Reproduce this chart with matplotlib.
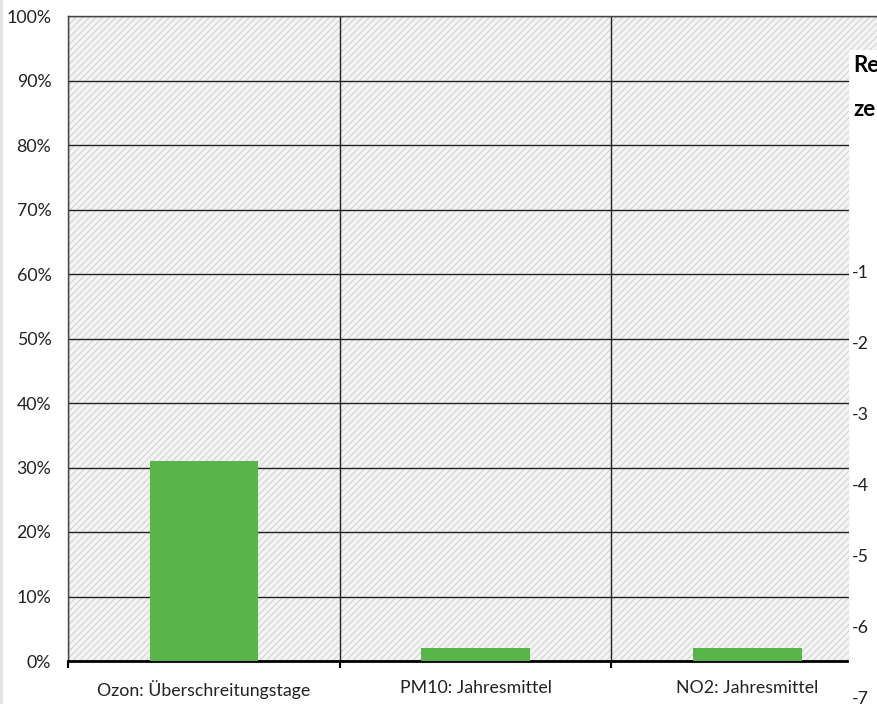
import matplotlib.pyplot as plt
import matplotlib.ticker as mticker
from matplotlib.patches import Rectangle
import numpy as np

plt.rcParams['hatch.linewidth'] = 0.7
plt.rcParams['font.family'] = ['Lato', 'DejaVu Sans']

categories = ['Ozon: Überschreitungstage', 'PM10: Jahresmittel', 'NO2: Jahresmittel']
values = [31, 2, 2]
y_ticks = [0, 10, 20, 30, 40, 50, 60, 70, 80, 90, 100]
other_title = ['Re', 'ze']
other_ticks = ['-1', '-2', '-3', '-4', '-5', '-6', '-7']

fig = plt.figure(figsize=(8.77, 7.04), dpi=100)
fig.patch.set_facecolor('white')
ax = fig.add_axes([68/877, 43/704, 815/877, 645/704])
ax.set_facecolor('white')
# hatched plot-area background
ax.add_patch(Rectangle((0, 0), 1, 1, transform=ax.transAxes, facecolor='#f4f4f4',
                       edgecolor='#cfcfcf', linewidth=0, hatch='/////', zorder=0))

x = np.arange(len(categories))
ax.bar(x, values, width=0.4, color='#59b44a', zorder=3)

ax.set_xlim(-0.5, 2.5)
ax.set_ylim(0, 100)
ax.set_yticks(y_ticks)
ax.yaxis.set_major_formatter(mticker.FuncFormatter(lambda v, p: f'{v:.0f}%'))
ax.yaxis.grid(True, color='#222222', lw=1.0, zorder=1)
ax.set_xticks(x)
ax.set_xticklabels(categories, fontsize=12.8, color='#222222')
ax.set_xticks([-0.5, 0.5, 1.5, 2.5], minor=True)
ax.xaxis.grid(True, which='minor', color='#222222', lw=1.0, zorder=1)
ax.tick_params(axis='x', which='major', length=0, pad=14)
ax.tick_params(axis='x', which='minor', length=5, width=1.5, direction='out')
ax.tick_params(axis='y', length=0, pad=12, labelsize=12.8, labelcolor='#222222')
for s in ['top', 'left']:
    ax.spines[s].set_color('#444444')
    ax.spines[s].set_linewidth(1.0)
ax.spines['right'].set_visible(False)
ax.spines['bottom'].set_color('black')
ax.spines['bottom'].set_linewidth(2.0)

# overlapping neighbour chart at the right edge
fig.patches.append(Rectangle((849/877, 0), 1, 654/704, transform=fig.transFigure,
                             facecolor='white', edgecolor='none', zorder=10))
for i, t in enumerate(other_title):
    fig.text(853/877, 1 - (66 + 44*i)/704, t, fontsize=16, fontweight='bold',
             va='center', zorder=11)
for i, t in enumerate(other_ticks):
    fig.text(852/877, 1 - (273 + 71*i)/704, t, fontsize=12.8,
             va='center', zorder=11, color='#222222')

# light grey frame at the left edge
fig.patches.append(Rectangle((0, 0), 3/877, 1, transform=fig.transFigure,
                             facecolor='#e4e4e4', edgecolor='none', zorder=10))

fig.savefig('out.png', dpi=100)
